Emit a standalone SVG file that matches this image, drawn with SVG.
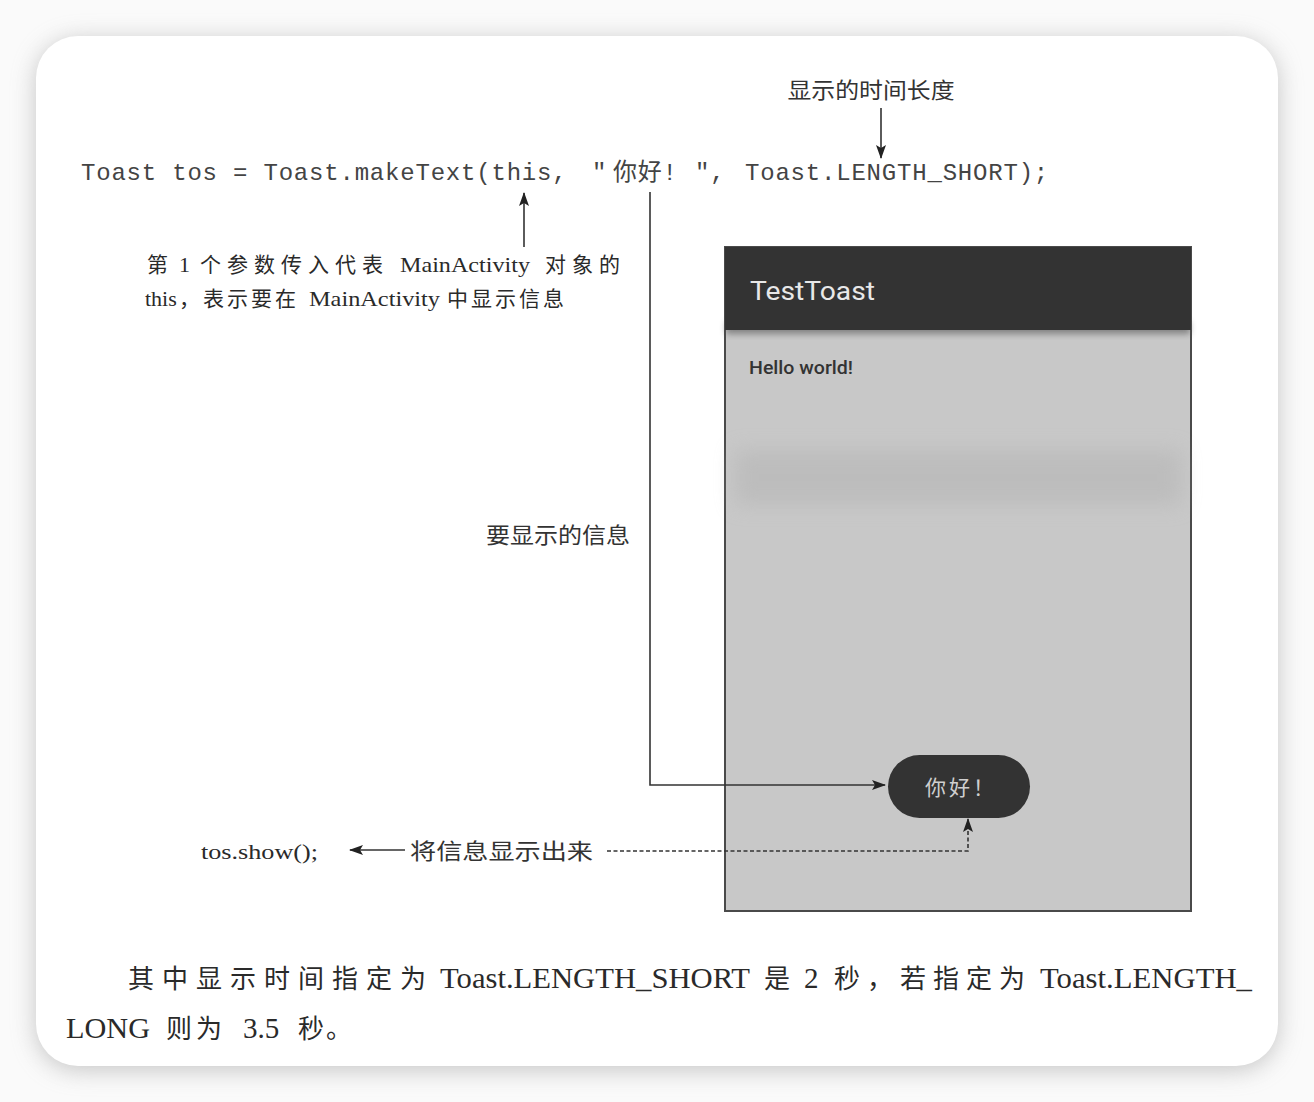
<svg xmlns="http://www.w3.org/2000/svg" width="1314" height="1102" viewBox="0 0 1314 1102">
  <style>
    .code { font-family: "Liberation Mono", "Noto Sans CJK SC", monospace; font-size: 24px; fill: #444; letter-spacing: 0.8px; }
    .note { font-family: "Noto Sans CJK SC", "Noto Sans", sans-serif; font-size: 22px; fill: #333; }
    .lat { font-family: "Liberation Serif", serif; font-size: 22px; fill: #2a2a2a; }
    .cjk { font-family: "Noto Sans CJK SC", sans-serif; font-size: 21px; fill: #2a2a2a; }
    .plat { font-family: "Liberation Serif", serif; font-size: 29px; fill: #2a2a2a; }
    .pcjk { font-family: "Noto Sans CJK SC", sans-serif; font-size: 26px; fill: #2a2a2a; }
    .wire { fill: none; stroke: #333; stroke-width: 1.6; }
    .dash { fill: none; stroke: #333; stroke-width: 1.6; stroke-dasharray: 4 2.5; }
  </style>
  <defs>
    <marker id="head" viewBox="0 0 14 10" refX="13" refY="5" markerWidth="14" markerHeight="10" markerUnits="userSpaceOnUse" orient="auto">
      <path d="M0,0 L14,5 L0,10 L3,5 Z" fill="#222"/>
    </marker>
    <filter id="cardShadow" x="-10%" y="-10%" width="120%" height="120%">
      <feGaussianBlur stdDeviation="12"/>
    </filter>
    <filter id="barShadow" x="-5%" y="-50%" width="110%" height="200%">
      <feGaussianBlur stdDeviation="3"/>
    </filter>
    <filter id="soft" x="-5%" y="-50%" width="110%" height="200%">
      <feGaussianBlur stdDeviation="10"/>
    </filter>
  </defs>

  <!-- page and card -->
  <rect width="1314" height="1102" fill="#fafafa"/>
  <rect x="36" y="40" width="1242" height="1030" rx="42" fill="#9a9a9a" filter="url(#cardShadow)" opacity="0.55"/>
  <rect x="36" y="36" width="1242" height="1030" rx="42" fill="#ffffff"/>

  <!-- phone screen -->
  <g id="phone">
    <rect x="725" y="247" width="466" height="664" fill="#c8c8c8" stroke="#4a4a4a" stroke-width="2"/>
    <rect x="735" y="450" width="446" height="55" fill="#b4b4b4" opacity="0.55" filter="url(#soft)"/>
    <rect x="726" y="322" width="464" height="12" fill="#555" filter="url(#barShadow)" opacity="0.6"/>
    <rect x="725" y="247" width="466" height="83" fill="#333333"/>
    <text x="750" y="300" font-family="Roboto, 'Liberation Sans', sans-serif" font-size="26" fill="#e8e8e8" textLength="125" lengthAdjust="spacingAndGlyphs">TestToast</text>
    <text x="749" y="374" font-family="Roboto, 'Liberation Sans', sans-serif" font-size="19" font-weight="500" fill="#333" textLength="104" lengthAdjust="spacingAndGlyphs">Hello world!</text>
  </g>

  <g id="toast">
    <rect x="888" y="755" width="142" height="63" rx="31.5" fill="#333333"/>
    <text x="925" y="795" font-family="'Noto Sans CJK SC', sans-serif" font-size="21" fill="#cfcfcf" letter-spacing="3">你好！</text>
  </g>

  <!-- code line -->
  <g id="code">
    <text class="code" x="81" y="180">Toast tos = Toast.makeText(this,</text>
    <text class="code" x="592" y="180">"</text>
    <text class="code" x="613" y="180" font-size="23" letter-spacing="0">你好!</text>
    <text class="code" x="695" y="180">",</text>
    <text class="code" x="745" y="180">Toast.LENGTH_SHORT);</text>
  </g>

  <g id="label-duration">
    <text class="note" x="871" y="98" text-anchor="middle" textLength="167" lengthAdjust="spacingAndGlyphs">显示的时间长度</text>
  </g>

  <g id="label-context">
    <text class="cjk" x="147" y="272">第</text>
    <text class="lat" x="179" y="272">1</text>
    <text class="cjk" x="200" y="272" letter-spacing="6">个参数传入代表</text>
    <text class="lat" x="400" y="272" textLength="130" lengthAdjust="spacingAndGlyphs">MainActivity</text>
    <text class="cjk" x="545" y="272" letter-spacing="6">对象的</text>
    <text class="lat" x="145" y="306">this</text>
    <text class="cjk" x="179" y="306" letter-spacing="3">，表示要在</text>
    <text class="lat" x="309" y="306" textLength="131" lengthAdjust="spacingAndGlyphs">MainActivity</text>
    <text class="cjk" x="447" y="306" letter-spacing="3">中显示信息</text>
  </g>

  <g id="label-message">
    <text class="note" x="486" y="543" textLength="144" lengthAdjust="spacingAndGlyphs">要显示的信息</text>
  </g>

  <g id="show-call">
    <text class="lat" x="201" y="859" font-size="24" textLength="117" lengthAdjust="spacingAndGlyphs">tos.show();</text>
    <text class="note" x="410" y="859" textLength="183" lengthAdjust="spacingAndGlyphs">将信息显示出来</text>
  </g>

  <!-- connectors -->
  <g id="connectors">
    <line class="wire" x1="881" y1="108" x2="881" y2="158" marker-end="url(#head)"/>
    <line class="wire" x1="524" y1="247" x2="524" y2="193" marker-end="url(#head)"/>
    <polyline class="wire" points="650,192 650,785 885,785" marker-end="url(#head)"/>
    <line class="wire" x1="405" y1="850" x2="350" y2="850" marker-end="url(#head)"/>
    <polyline class="dash" points="607,851 968,851 968,819" marker-end="url(#head)"/>
  </g>

  <!-- closing paragraph -->
  <g id="paragraph">
    <text class="pcjk" x="128" y="988" letter-spacing="8">其中显示时间指定为</text>
    <text class="plat" x="440" y="988" textLength="310" lengthAdjust="spacingAndGlyphs">Toast.LENGTH_SHORT</text>
    <text class="pcjk" x="764" y="988">是</text>
    <text class="plat" x="804" y="988">2</text>
    <text class="pcjk" x="834" y="988" letter-spacing="7">秒，若指定为</text>
    <text class="plat" x="1040" y="988" textLength="212" lengthAdjust="spacingAndGlyphs">Toast.LENGTH_</text>
    <text class="plat" x="66" y="1038" textLength="84" lengthAdjust="spacingAndGlyphs">LONG</text>
    <text class="pcjk" x="166" y="1038" letter-spacing="4">则为</text>
    <text class="plat" x="243" y="1038">3.5</text>
    <text class="pcjk" x="298" y="1038" letter-spacing="2">秒。</text>
  </g>
</svg>
